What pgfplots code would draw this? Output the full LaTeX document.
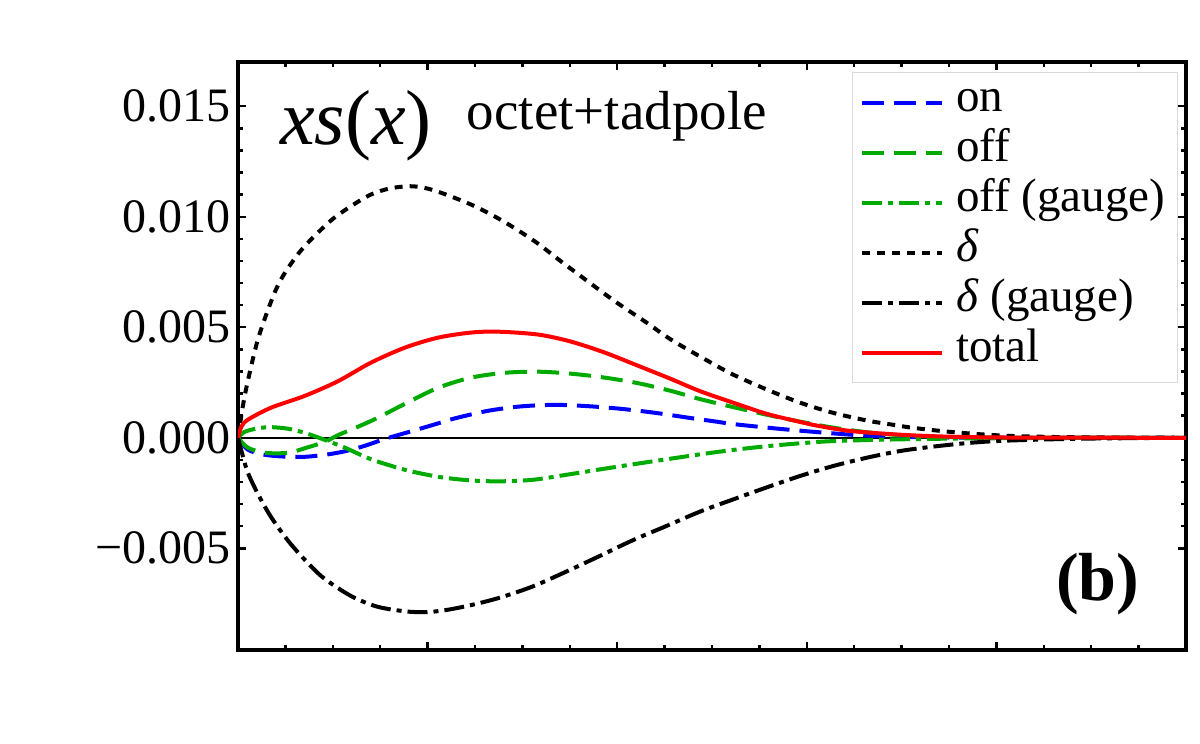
\documentclass[border=0pt]{standalone}
\usepackage{fontspec}
\setmainfont{Liberation Serif}
\usepackage{pgfplots}
\pgfplotsset{compat=1.18}
\definecolor{mgreen}{RGB}{0,170,0}
\definecolor{mblue}{RGB}{0,0,255}
\definecolor{mred}{RGB}{255,0,0}
\begin{document}
\begin{tikzpicture}
\begin{axis}[
  name=ax, at={(0,0)}, anchor=south west,
  scale only axis, width=474pt, height=294pt,
  xmin=0, xmax=1, ymin=-0.0096, ymax=0.0170,
  xtick={0,0.2,0.4,0.6,0.8,1}, xticklabels={},
  minor x tick num=3,
  ytick={-0.005,0,0.005,0.01,0.015},
  yticklabels={−0.005,0.000,0.005,0.010,0.015},
  scaled y ticks=false,
  minor y tick num=4,
  tick align=inside, xtick pos=both, ytick pos=both,
  major tick length=4pt, minor tick length=2.5pt,
  every tick/.style={black, line width=1.2pt},
  axis line style={line width=2pt},
  yticklabel style={font=\fontsize{24}{24}\selectfont},
  legend cell align=left,
  legend image code/.code={\draw[#1] (0pt,0pt) -- (40pt,0pt);},
  legend style={at={(1,1)}, anchor=north east, xshift=-4pt, yshift=-5pt,
    draw=black!15, line width=0.6pt, fill=white,
    font=\fontsize{23.5}{25}\selectfont, row sep=0pt, column sep=4pt,
    nodes={inner ysep=0pt, inner xsep=2pt, text height=17pt, text depth=8pt},
    inner xsep=4pt, inner ysep=2.5pt},
  clip=true,
]
\addplot[black, line width=1pt, forget plot] coordinates {(0,0) (1,0)};
% on
\addplot[mblue, line width=2pt, smooth, dash pattern=on 11pt off 5pt] coordinates {
(0,0) (0.0105,-0.00054) (0.0285,-0.00077) (0.0527,-0.00086) (0.0707,-0.00086)
(0.0918,-0.00077) (0.1129,-0.00061) (0.134,-0.00036) (0.1551,-0.00005) (0.1825,0.00029)
(0.211,0.00065) (0.2289,0.00088) (0.2637,0.00122) (0.2985,0.00142) (0.3344,0.00149)
(0.3692,0.00143) (0.404,0.00131) (0.4399,0.00113) (0.4747,0.00091) (0.5063,0.00072)
(0.5222,0.00062) (0.5749,0.00039) (0.6276,0.0002) (0.6635,0.0001) (0.73,0.00002) (0.85,0.0) (1,0)};
\addlegendentry{on}
% off
\addplot[mgreen, line width=2pt, smooth, dash pattern=on 11pt off 5pt] coordinates {
(0,0) (0.0105,-0.00045) (0.0285,-0.00068) (0.0527,-0.00068) (0.0707,-0.00047)
(0.0918,-0.00018) (0.1055,0.00012) (0.1266,0.0005) (0.1477,0.00091) (0.1762,0.00154)
(0.211,0.00226) (0.2458,0.00272) (0.2816,0.00294) (0.3165,0.00299) (0.3513,0.0029)
(0.3871,0.00272) (0.4219,0.00247) (0.4568,0.00212) (0.4873,0.00175) (0.5222,0.00139)
(0.558,0.00104) (0.5928,0.00073) (0.6276,0.00046) (0.6635,0.00025) (0.6983,0.00012)
(0.7331,0.00005) (0.8,0.00001) (1,0)};
\addlegendentry{off}
% off (gauge)
\addplot[mgreen, line width=2pt, smooth, dash pattern=on 10pt off 3pt on 2.5pt off 3pt] coordinates {
(0,0) (0.0071,0.00027) (0.0211,0.00043) (0.0348,0.00048) (0.0527,0.00041) (0.0707,0.00022)
(0.0918,-0.0001) (0.1129,-0.00045) (0.1403,-0.00097) (0.1762,-0.00145) (0.212,-0.00177)
(0.2458,-0.00193) (0.2764,-0.00197) (0.3112,-0.0019) (0.347,-0.00167) (0.3819,-0.00143)
(0.4167,-0.0012) (0.4525,-0.00097) (0.4873,-0.00075) (0.5222,-0.00055) (0.558,-0.00038)
(0.5928,-0.00025) (0.6276,-0.00015) (0.6983,-0.00007) (0.8038,-0.00002) (1,0)};
\addlegendentry{off (gauge)}
% delta
\addplot[black, line width=2pt, smooth, dash pattern=on 4pt off 3.5pt] coordinates {
(0,0) (0.005,0.0014) (0.01,0.0025) (0.02,0.0043) (0.03,0.0056) (0.04,0.0067) (0.05,0.0075)
(0.065,0.0084) (0.08,0.0091) (0.1,0.0099) (0.12,0.0105) (0.14,0.0110) (0.16,0.01128)
(0.1814,0.01138) (0.1983,0.01129) (0.2184,0.01102) (0.25,0.01047) (0.2816,0.00975)
(0.3133,0.00888) (0.3407,0.00798) (0.3692,0.00707) (0.3977,0.00617) (0.4293,0.00526)
(0.4568,0.00444) (0.4926,0.00355) (0.5222,0.00286) (0.558,0.00218) (0.5928,0.00159)
(0.6276,0.00113) (0.6635,0.00078) (0.6878,0.00061) (0.712,0.00045) (0.748,0.00028)
(0.7827,0.00016) (0.8175,0.00008) (0.87,0.00003) (0.93,0.00001) (1,0)};
\addlegendentry{\textit{δ}}
% delta (gauge)
\addplot[black, line width=2pt, smooth, dash pattern=on 10pt off 3pt on 2.5pt off 3pt] coordinates {
(0,0) (0.0053,-0.00086) (0.0105,-0.00159) (0.0211,-0.00255) (0.0348,-0.00358) (0.0527,-0.00465)
(0.0707,-0.00553) (0.0876,-0.00625) (0.1055,-0.0068) (0.1234,-0.00725) (0.1477,-0.00765)
(0.1762,-0.00785) (0.1973,-0.00789) (0.2184,-0.0078) (0.2458,-0.00757) (0.2764,-0.00723)
(0.3112,-0.00672) (0.347,-0.00604) (0.3819,-0.00534) (0.4167,-0.00463) (0.4525,-0.00398)
(0.4873,-0.00334) (0.5222,-0.00279) (0.558,-0.00224) (0.5928,-0.00173) (0.6276,-0.00128)
(0.6635,-0.0009) (0.6983,-0.0006) (0.7331,-0.0004) (0.769,-0.00024) (0.8038,-0.00014)
(0.857,-0.00007) (0.909,-0.00003) (1,0)};
\addlegendentry{\textit{δ} (gauge)}
% total
\addplot[mred, line width=2pt, smooth] coordinates {
(0,0) (0.0035,0.0005) (0.0105,0.00082) (0.0348,0.00136) (0.0707,0.0019) (0.1055,0.00256)
(0.1403,0.0034) (0.1762,0.00408) (0.211,0.00453) (0.2458,0.00476) (0.2743,0.0048)
(0.3165,0.00467) (0.3513,0.00435) (0.3871,0.00385) (0.4219,0.00326) (0.4568,0.00266)
(0.4873,0.00211) (0.5222,0.00159) (0.558,0.00108) (0.5928,0.00072) (0.6108,0.00055)
(0.6456,0.00031) (0.6983,0.00014) (0.75,0.00005) (0.82,0.00001) (1,0)};
\addlegendentry{total}
\node[anchor=base west, inner sep=0pt, font=\fontsize{39}{39}\selectfont] at (rel axis cs:0.044,0.859) {\textit{xs}(\textit{x})};
\node[anchor=base west, inner sep=0pt, font=\fontsize{27.5}{27.5}\selectfont] at (rel axis cs:0.241,0.886) {octet+tadpole};
\node[anchor=base east, inner sep=0pt, font=\fontsize{34}{34}\selectfont\bfseries] at (rel axis cs:0.951,0.085) {(b)};
\end{axis}
\pgfresetboundingbox
\path[use as bounding box] (ax.south west) ++(-119pt,-47pt) rectangle ++(600pt,372pt);
\end{tikzpicture}
\end{document}
